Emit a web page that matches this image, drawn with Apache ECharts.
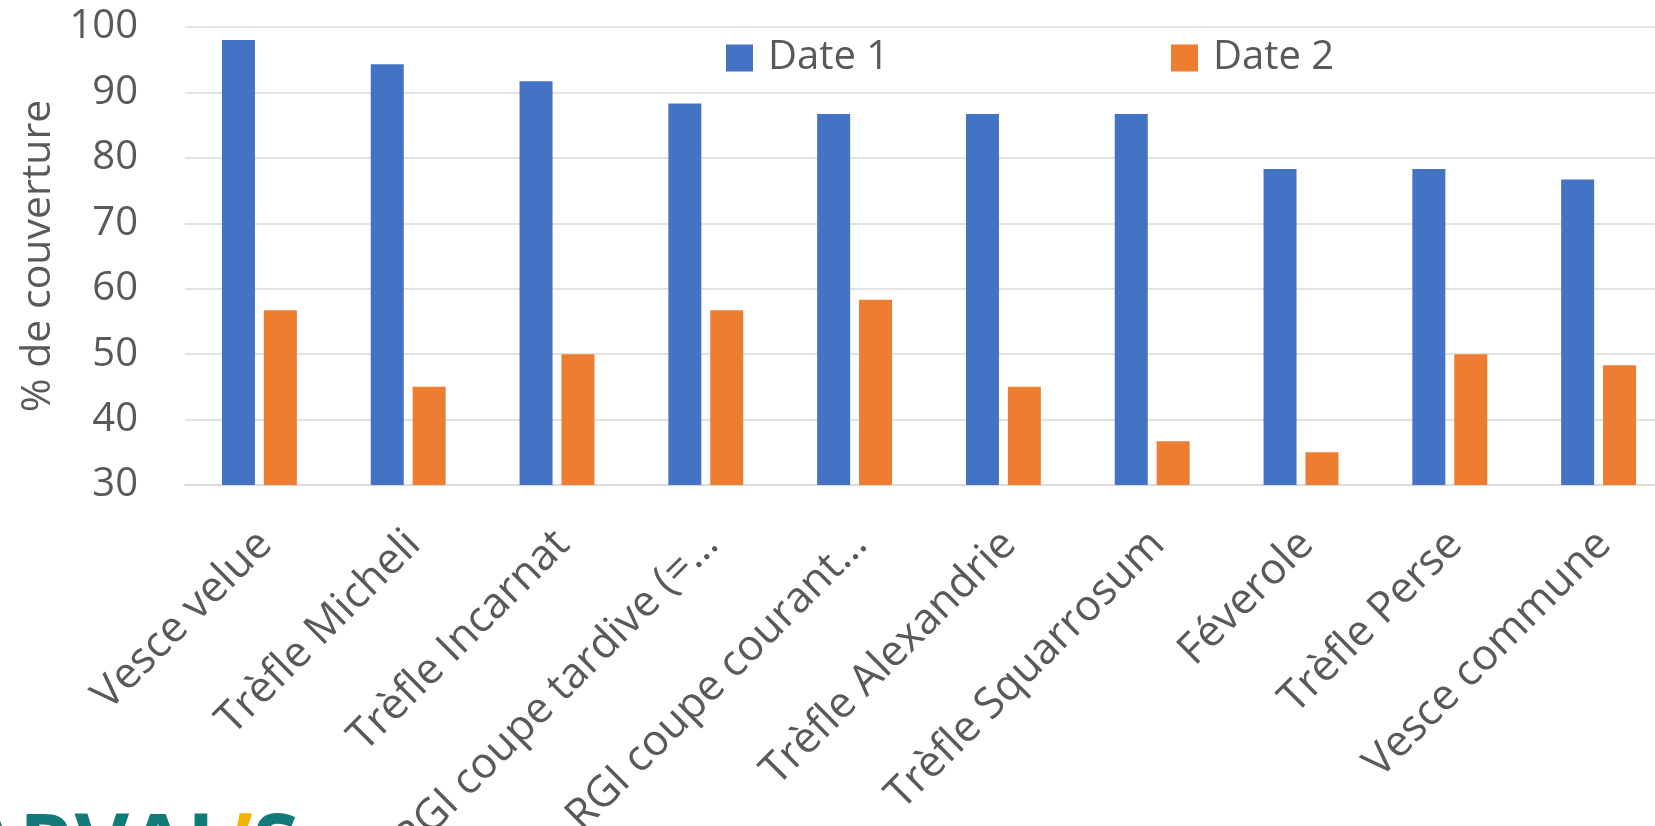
<!DOCTYPE html>
<html>
<head>
<meta charset="utf-8">
<script src="https://cdn.jsdelivr.net/npm/echarts@6/dist/echarts.min.js"></script>
<style>
html,body{margin:0;padding:0;background:#fff;}
#chart{width:1655px;height:826px;}
</style>
</head>
<body>
<div id="chart"></div>
<script>
const categories = ["Vesce velue", "Trèfle Micheli", "Trèfle Incarnat", "RGI coupe tardive (=…", "RGI coupe courant…", "Trèfle Alexandrie", "Trèfle Squarrosum", "Féverole", "Trèfle Perse", "Vesce commune"];
const date1 = [98.0, 94.3, 91.7, 88.3, 86.7, 86.7, 86.7, 78.3, 78.3, 76.7];
const date2 = [56.7, 45.0, 50.0, 56.7, 58.3, 45.0, 36.7, 35.0, 50.0, 48.3];
const seriesNames = ["Date 1", "Date 2"];
const yTitle = "% de couverture";

const FONT = "'Open Sans', sans-serif";
const TXT = "#595959";
const chart = echarts.init(document.getElementById('chart'), null, {renderer: 'canvas'});
chart.setOption({
  animation: false,
  backgroundColor: '#ffffff',
  textStyle: {fontFamily: FONT},
  grid: {left: 185, top: 27, width: 1488, height: 458, containLabel: false, outerBoundsMode: 'none'},
  legend: [
    {data: [seriesNames[0]], left: 721, top: 33, itemWidth: 27, itemHeight: 27, icon: 'rect',
     textStyle: {fontSize: 40, color: TXT, fontFamily: FONT, lineHeight: 40, padding: [0,0,0,10]}},
    {data: [seriesNames[1]], left: 1166, top: 33, itemWidth: 27, itemHeight: 27, icon: 'rect',
     textStyle: {fontSize: 40, color: TXT, fontFamily: FONT, lineHeight: 40, padding: [0,0,0,10]}}
  ],
  xAxis: {
    type: 'category',
    data: categories,
    axisLine: {lineStyle: {color: '#d9d9d9', width: 1.5}},
    axisTick: {show: false},
    axisLabel: {interval: 0, rotate: 45, fontSize: 43, lineHeight: 16, verticalAlign: 'top', color: TXT, fontFamily: FONT, margin: 47}
  },
  yAxis: {
    type: 'value',
    min: 30, max: 100, interval: 10,
    name: yTitle,
    nameLocation: 'middle',
    nameGap: 126,
    nameRotate: 90,
    nameTextStyle: {fontSize: 41, color: TXT, fontFamily: FONT},
    axisLine: {show: false},
    axisTick: {show: false},
    axisLabel: {fontSize: 40, color: TXT, fontFamily: FONT, margin: 47},
    splitLine: {lineStyle: {color: '#d9d9d9', width: 1.5}}
  },
  series: [
    {name: seriesNames[0], type: 'bar', data: date1, barWidth: 33, barGap: '27%', itemStyle: {color: '#4472c4'}},
    {name: seriesNames[1], type: 'bar', data: date2, barWidth: 33, barGap: '27%', itemStyle: {color: '#ed7d31'}}
  ],
  graphic: [
    {type: 'text', left: -39, top: 808, silent: true,
     style: {text: '{t|ARVAL}{y|ʼ}{t|S}', fontFamily: FONT,
       rich: {t: {fontSize: 84, fontWeight: 'bold', fill: '#127b79', fontFamily: FONT},
              y: {fontSize: 84, fontWeight: 'bold', fill: '#f5b300', fontFamily: FONT}}}}
  ]
});
</script>
</body>
</html>
